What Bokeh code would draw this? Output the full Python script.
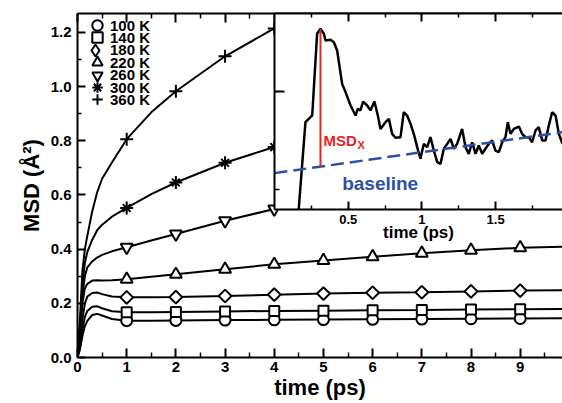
import numpy as np
from bokeh.plotting import figure
from bokeh.models import (Range1d, FixedTicker, LinearAxis, Legend, LegendItem,
                          NumeralTickFormatter, ColumnDataSource)
from bokeh.core.properties import value
from bokeh.embed import file_html
from bokeh.resources import INLINE

FONT = "Liberation Sans"

# ---------------- main panel data ----------------
time_ps = [0, 0.05, 0.1, 0.15, 0.2, 0.3, 0.4, 0.5, 0.7, 1, 1.5, 2, 3, 4, 5, 6, 7, 8, 9, 10]
msd_100K = [0, 0.03, 0.08, 0.115, 0.135, 0.157, 0.161, 0.155, 0.142, 0.136, 0.136, 0.137, 0.138, 0.139, 0.140, 0.141, 0.142, 0.143, 0.144, 0.145]
msd_140K = [0, 0.04, 0.10, 0.15, 0.172, 0.187, 0.189, 0.182, 0.171, 0.167, 0.167, 0.168, 0.170, 0.172, 0.173, 0.174, 0.175, 0.177, 0.178, 0.179]
msd_180K = [0, 0.05, 0.14, 0.20, 0.225, 0.238, 0.240, 0.234, 0.225, 0.222, 0.222, 0.223, 0.227, 0.232, 0.236, 0.239, 0.241, 0.244, 0.247, 0.249]
msd_220K = [0, 0.07, 0.20, 0.255, 0.272, 0.284, 0.285, 0.284, 0.285, 0.289, 0.298, 0.307, 0.326, 0.344, 0.358, 0.372, 0.385, 0.396, 0.405, 0.410]
msd_260K = [0, 0.09, 0.23, 0.30, 0.333, 0.355, 0.369, 0.379, 0.392, 0.407, 0.432, 0.456, 0.505, 0.548, 0.59, 0.63, 0.665, 0.70, 0.735, 0.77]
msd_300K = [0, 0.11, 0.27, 0.35, 0.39, 0.435, 0.47, 0.49, 0.52, 0.552, 0.603, 0.646, 0.719, 0.777, 0.83, 0.88, 0.93, 0.97, 1.01, 1.05]
msd_360K = [0, 0.14, 0.32, 0.40, 0.45, 0.54, 0.61, 0.66, 0.72, 0.806, 0.905, 0.983, 1.112, 1.215, 1.31, 1.40, 1.48, 1.56, 1.64, 1.72]
temperature_labels = ["100 K", "140 K", "180 K", "220 K", "260 K", "300 K", "360 K"]
marker_times = [1, 2, 3, 4, 5, 6, 7, 8, 9]
x_ticks = [0, 1, 2, 3, 4, 5, 6, 7, 8, 9, 10]
y_ticks = [0.0, 0.2, 0.4, 0.6, 0.8, 1.0, 1.2]

# ---------------- inset data ----------------
inset_time = [0.160, 0.210, 0.244, 0.256, 0.289, 0.312, 0.335, 0.346, 0.380, 0.403,
              0.425, 0.459, 0.482, 0.516, 0.550, 0.565, 0.583, 0.601, 0.629, 0.651,
              0.678, 0.701, 0.719, 0.753, 0.776, 0.798, 0.821, 0.855, 0.877, 0.900,
              0.923, 0.945, 0.968, 0.990, 1.013, 1.036, 1.058, 1.081, 1.104, 1.126,
              1.149, 1.172, 1.194, 1.217, 1.239, 1.273, 1.296, 1.318, 1.341, 1.364,
              1.386, 1.409, 1.431, 1.454, 1.477, 1.499, 1.522, 1.545, 1.567, 1.583,
              1.601, 1.624, 1.658, 1.680, 1.703, 1.726, 1.748, 1.771, 1.793, 1.816,
              1.839, 1.861, 1.884, 1.907, 1.929, 1.954]
inset_msd = [0.36, 0.844, 0.870, 0.878, 1.294, 1.319, 1.294, 1.260, 1.263, 1.251,
             1.209, 1.039, 0.997, 0.929, 0.878, 0.912, 0.904, 0.949, 0.929, 0.904,
             0.949, 0.878, 0.810, 0.844, 0.861, 0.785, 0.765, 0.768, 0.895, 0.878,
             0.836, 0.785, 0.717, 0.658, 0.734, 0.717, 0.768, 0.700, 0.641, 0.632,
             0.709, 0.734, 0.759, 0.709, 0.734, 0.810, 0.717, 0.683, 0.742, 0.683,
             0.726, 0.683, 0.709, 0.734, 0.751, 0.700, 0.692, 0.742, 0.768, 0.844,
             0.785, 0.810, 0.822, 0.785, 0.768, 0.768, 0.742, 0.802, 0.819, 0.751,
             0.751, 0.827, 0.895, 0.878, 0.785, 0.734]
baseline_time = [0.0, 2.0]
baseline_msd = [0.585, 0.798]
msdx_time = 0.312
inset_x_ticks = [0.5, 1.0, 1.5]
inset_x_minor = [0.25, 0.75, 1.25, 1.75]

RED = "#e8231f"
BLUE = "#2d4fa6"


def style_axis(ax, major_in=9, minor_in=5):
    ax.axis_line_width = 2
    ax.axis_line_color = "black"
    ax.major_tick_line_width = 2
    ax.minor_tick_line_width = 1.5
    ax.major_tick_in = major_in
    ax.major_tick_out = 0
    ax.minor_tick_in = minor_in
    ax.minor_tick_out = 0
    ax.major_label_text_font = FONT
    ax.major_label_text_font_style = "bold"
    ax.major_label_text_color = "black"
    ax.axis_label_text_font = FONT
    ax.axis_label_text_font_style = "bold"
    ax.axis_label_text_color = "black"


def hide_labels(ax):
    ax.major_label_text_font_size = "0px"
    ax.major_label_text_color = None
    ax.major_label_standoff = 0


# ---------------- main figure ----------------
p = figure(width=562, height=403, x_range=Range1d(0, 9.86), y_range=Range1d(0, 1.27),
           output_backend="svg", toolbar_location=None,
           min_border_left=77, min_border_right=0, min_border_top=13, min_border_bottom=46,
           outline_line_color=None, background_fill_color="white", border_fill_color="white")
p.grid.visible = False

xt = FixedTicker(ticks=x_ticks, minor_ticks=[t + 0.5 for t in x_ticks])
yt = FixedTicker(ticks=y_ticks, minor_ticks=[round(t + 0.1, 2) for t in y_ticks])

p.xaxis.ticker = xt
p.yaxis.ticker = yt
p.yaxis.formatter = NumeralTickFormatter(format="0.0")
style_axis(p.xaxis[0])
style_axis(p.yaxis[0], major_in=8, minor_in=4)
p.xaxis.major_label_text_font_size = "15px"
p.yaxis.major_label_text_font_size = "15px"
p.xaxis.major_label_standoff = 4
p.yaxis.major_label_standoff = 6
p.xaxis.axis_label = "time (ps)"
p.yaxis.axis_label = "MSD (Å²)"
p.xaxis.axis_label_text_font_size = "22px"
p.yaxis.axis_label_text_font_size = "22px"
p.xaxis.axis_label_standoff = 0
p.yaxis.axis_label_standoff = 4

top = LinearAxis(ticker=xt)
style_axis(top)
hide_labels(top)
p.add_layout(top, "above")

series = [msd_100K, msd_140K, msd_180K, msd_220K, msd_260K, msd_300K, msd_360K]
# (marker, size, angle) drawn on the curves
marker_specs = [
    [("circle", 11, 0.0)],
    [("square", 10, 0.0)],
    [("square", 9, np.pi / 4)],
    [("triangle", 12, 0.0)],
    [("inverted_triangle", 12, 0.0)],
    [("cross", 13, 0.0), ("x", 11, 0.0)],
    [("cross", 13, 0.0)],
]
legend_markers = [None, None, "diamond", None, None, None, None]

for i, (label, msd, specs) in enumerate(zip(temperature_labels, series, marker_specs)):
    p.line(time_ps, msd, line_color="black", line_width=2)
    src = ColumnDataSource(dict(t=marker_times, v=np.interp(marker_times, time_ps, msd)))
    rs = []
    for marker, size, angle in specs:
        r = p.scatter("t", "v", source=src, marker=marker, size=size, angle=angle,
                      fill_color="white", line_color="black", line_width=2)
        rs.append(r)
    gw, gh, lx, ly = 26, 28, 7, 318 - 12.4 * i
    if legend_markers[i] is not None:
        # Bokeh legends draw markers unrotated, so the key uses a hidden diamond glyph
        rs = [p.scatter("t", "v", source=src, marker=legend_markers[i], size=12,
                        fill_color="white", line_color="black", line_width=2, visible=False)]
        gw, gh, lx, ly = 30, 30, 3, 318 - 12.4 * i - 1
    leg = Legend(items=[LegendItem(label=label, renderers=rs)],
                 location=(lx, ly), orientation="vertical",
                 border_line_color=None, background_fill_alpha=0,
                 label_text_font=FONT, label_text_font_style="bold",
                 label_text_font_size="15px", label_text_color="black",
                 glyph_width=gw, glyph_height=gh, label_height=12,
                 spacing=0, padding=0, margin=0, label_standoff=0)
    p.add_layout(leg)

# ---------------- inset figure ----------------
inset = figure(width=298, height=247, x_range=Range1d(0, 1.954), y_range=Range1d(0.4, 1.397),
               output_backend="svg", toolbar_location=None,
               min_border_left=10, min_border_right=0, min_border_top=10, min_border_bottom=41,
               outline_line_color=None, background_fill_color="white", border_fill_alpha=0,
               styles={"position": "absolute", "left": "264px", "top": "3px", "z-index": "10"})
inset.grid.visible = False

ixt = FixedTicker(ticks=inset_x_ticks, minor_ticks=inset_x_minor)
iyt = FixedTicker(ticks=[1.0], minor_ticks=[0.5, 1.0])
inset.xaxis.ticker = ixt
inset.yaxis.ticker = iyt
style_axis(inset.xaxis[0], major_in=8, minor_in=4)
style_axis(inset.yaxis[0], major_in=10, minor_in=5)
inset.xaxis.major_label_overrides = {1: "1"}
inset.xaxis.major_label_text_font_size = "13px"
inset.xaxis.major_label_standoff = 5
inset.xaxis.axis_label = "time (ps)"
inset.xaxis.axis_label_text_font_size = "17px"
inset.xaxis.axis_label_standoff = -4
hide_labels(inset.yaxis[0])

itop = LinearAxis(ticker=ixt)
style_axis(itop, major_in=8, minor_in=4)
hide_labels(itop)
inset.add_layout(itop, "above")

inset.line(inset_time, inset_msd, line_color="black", line_width=2.5)
inset.line(baseline_time, baseline_msd, line_color=BLUE, line_width=2.5, line_dash="13 6")
peak_msd = max(inset_msd)
base_at_peak = float(np.interp(msdx_time, baseline_time, baseline_msd))
inset.segment(x0=[msdx_time], y0=[base_at_peak], x1=[msdx_time], y1=[peak_msd],
              line_color=RED, line_width=2)

inset.text(x=[0.332], y=[0.751], text=["MSD"], text_font=value(FONT), text_font_style="bold",
           text_font_size="15px", text_color=RED, text_align="left", text_baseline="alphabetic")
inset.text(x=[0.563], y=[0.726], text=["X"], text_font=value(FONT), text_font_style="bold",
           text_font_size="11px", text_color=RED, text_align="left", text_baseline="alphabetic")
inset.text(x=[0.459], y=[0.532], text=["baseline"], text_font=value(FONT), text_font_style="bold",
           text_font_size="19px", text_color=BLUE, text_align="left", text_baseline="alphabetic")

with open("out.html", "w") as f:
    f.write(file_html([p, inset], INLINE))
